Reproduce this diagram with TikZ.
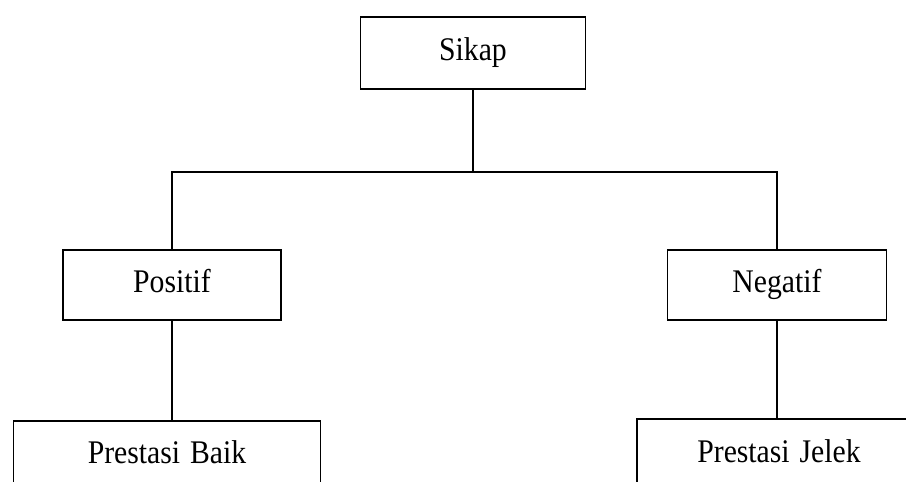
\documentclass[tikz,border=0pt]{standalone}
\usepackage{fontspec}
\setmainfont{Liberation Serif}[FakeStretch=0.9]
\usepackage{tikz}
\usetikzlibrary{positioning}
\tikzset{
    kotak/.style={draw,line width=1.3pt,rectangle,inner sep=0pt,align=center,
        text height=22pt,text depth=8pt,font=\fontsize{33}{38}\selectfont},% box for every item of the tree
    garis/.style={line width=1.3pt},
}

\begin{document}
\begin{tikzpicture}[x=1pt,y=-1pt]
            \clip (0,0) rectangle (906,482);
            \node(sikap) [kotak,minimum width=225pt,minimum height=72pt] at (473,53) {Sikap};
            \node(positif) [kotak,minimum width=218pt,minimum height=70pt] at (172,285) {Positif};
            \node(negatif) [kotak,minimum width=219pt,minimum height=70pt] at (777,285) {Negatif};
            \node(baik) [kotak,minimum width=307pt,minimum height=70pt] at (167,456) {Prestasi\hspace{0.3em}Baik};
            \node(jelek) [kotak,minimum width=284pt,minimum height=72pt] at (779,455) {Prestasi\hspace{0.3em}Jelek};
            \coordinate (cabang) at (473,172);
            \draw[garis] (sikap.south) -- (cabang);
            \draw[garis] (positif.north) |- (cabang) -| (negatif.north);
            \draw[garis] (positif.south) -- (positif.south |- baik.north);
            \draw[garis] (negatif.south) -- (negatif.south |- jelek.north);
        \end{tikzpicture}
\end{document}
